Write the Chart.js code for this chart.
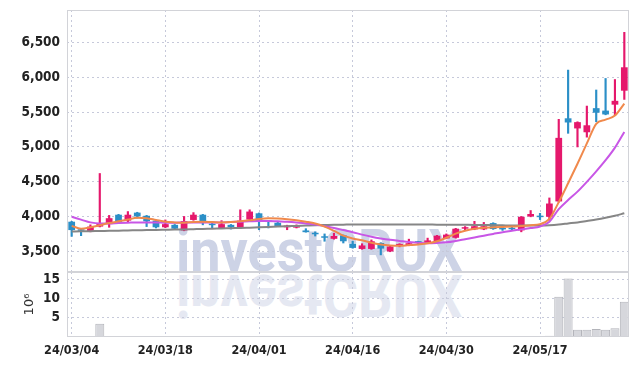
<!DOCTYPE html>
<html>
<head>
<meta charset="utf-8">
<script src="https://cdn.jsdelivr.net/npm/chart.js@4.4.1/dist/chart.umd.min.js"></script>
<style>
  html, body { margin: 0; padding: 0; background: #fff; }
  #wrap { position: relative; width: 639px; height: 366px; overflow: hidden; }
  .mark {
    position: absolute; left: 176px; top: 221px;
    font-family: Roboto, sans-serif; font-weight: 700; font-size: 60px; line-height: 60px;
    color: #cdd3e6; white-space: nowrap;
    transform-origin: 0 50px; transform: scaleX(0.9);
  }
  .mark.flip { top: 225px; transform: scale(0.9, -1); opacity: 0.5; }
  #priceBox { position: absolute; left: 0; top: 0; width: 639px; height: 272px; }
  #volBox { position: absolute; left: 0; top: 272px; width: 639px; height: 94px; }
</style>
</head>
<body>
<div id="wrap">
  <div class="mark">investCRUX</div>
  <div class="mark flip">investCRUX</div>
  <div id="priceBox"><canvas id="priceChart"></canvas></div>
  <div id="volBox"><canvas id="volChart"></canvas></div>
</div>
<script>
// 거래일 (x축)
const dates = ['24/03/04','24/03/05','24/03/06','24/03/07','24/03/08','24/03/11','24/03/12','24/03/13','24/03/14','24/03/15',
  '24/03/18','24/03/19','24/03/20','24/03/21','24/03/22','24/03/25','24/03/26','24/03/27','24/03/28','24/03/29',
  '24/04/01','24/04/02','24/04/03','24/04/04','24/04/05','24/04/08','24/04/09','24/04/11','24/04/12','24/04/15',
  '24/04/16','24/04/17','24/04/18','24/04/19','24/04/22','24/04/23','24/04/24','24/04/25','24/04/26','24/04/29',
  '24/04/30','24/05/02','24/05/03','24/05/07','24/05/08','24/05/09','24/05/10','24/05/13','24/05/14','24/05/16',
  '24/05/17','24/05/20','24/05/21','24/05/22','24/05/23','24/05/24','24/05/27','24/05/28','24/05/29','24/05/30'];

// 시가 / 고가 / 저가 / 종가
const opens = [3930,3815,3790,3860,3895,4030,3945,4060,4015,3945,
  3850,3885,3805,3955,4030,3895,3840,3885,3850,3960,
  4050,3945,3915,3850,3845,3805,3770,3720,3685,3735,
  3615,3540,3540,3625,3505,3590,3590,3640,3625,3650,
  3690,3700,3830,3820,3820,3910,3830,3830,3805,4005,
  4010,4000,4220,5410,5265,5210,5555,5520,5605,5805];
const highs = [3935,3820,3885,4620,4020,4035,4075,4065,4020,3950,
  3955,3890,4005,4060,4035,3935,3945,3890,4100,4100,
  4055,3950,3920,3880,3885,3830,3785,3755,3765,3740,
  3650,3615,3670,3630,3580,3615,3680,3650,3695,3735,
  3755,3835,3860,3935,3920,3915,3855,3850,4005,4090,
  4050,4270,5395,6100,5360,5585,5815,5980,5965,6640];
const lows = [3720,3730,3785,3855,3850,3920,3925,3980,3860,3840,
  3845,3820,3800,3950,3885,3830,3835,3825,3830,3955,
  3815,3840,3860,3815,3840,3780,3725,3650,3680,3625,
  3550,3535,3535,3455,3500,3570,3585,3610,3620,3645,
  3685,3695,3815,3815,3815,3820,3805,3810,3785,4000,
  3960,3950,4210,5195,5000,5140,5360,5460,5455,5680];
const closes = [3810,3800,3860,3905,3980,3925,4030,4005,3935,3850,
  3895,3830,3940,4030,3910,3880,3895,3850,3945,4075,
  3935,3925,3860,3875,3860,3780,3750,3700,3725,3650,
  3555,3590,3650,3545,3575,3608,3622,3630,3662,3730,
  3745,3830,3845,3865,3865,3825,3820,3822,4000,4040,
  3995,4190,5130,5350,5355,5310,5490,5465,5660,6140];

// 이동평균선
const ma5 = [3870,3830,3850,3880,3910,3935,3960,3985,3980,3955,
  3930,3920,3915,3925,3930,3925,3920,3925,3935,3950,
  3970,3980,3975,3965,3950,3930,3905,3860,3800,3730,
  3690,3665,3630,3605,3590,3585,3595,3605,3620,3650,
  3700,3760,3800,3830,3845,3850,3855,3860,3870,3880,
  3895,3970,4210,4480,4760,5050,5330,5390,5450,5620];
const ma20 = [4000,3960,3920,3905,3905,3910,3915,3920,3920,3920,
  3915,3915,3920,3920,3920,3920,3920,3925,3930,3935,
  3940,3940,3935,3930,3920,3905,3890,3865,3840,3810,
  3780,3745,3715,3690,3670,3655,3640,3630,3620,3625,
  3635,3655,3680,3705,3730,3755,3780,3800,3820,3840,
  3860,3930,4110,4240,4360,4500,4650,4810,4990,5215];
const ma60 = [3790,3792,3795,3797,3800,3802,3805,3807,3810,3812,
  3815,3818,3820,3823,3826,3830,3833,3837,3840,3845,
  3850,3855,3860,3865,3870,3875,3880,3883,3886,3888,
  3890,3890,3890,3890,3890,3890,3890,3890,3889,3888,
  3887,3886,3885,3884,3882,3880,3878,3876,3875,3874,
  3875,3880,3890,3905,3920,3940,3960,3985,4015,4050];

// 거래량 (백만 주)
const volumes = [0.05,0.05,0.05,3.5,0.25,0.05,0.2,0.2,0.05,0.05,
  0.05,0.05,0.05,0.2,0.05,0.05,0.05,0.05,0.05,0.2,
  0.2,0.05,0.05,0.05,0.05,0.05,0.05,0.05,0.05,0.05,
  0.05,0.05,0.05,0.05,0.05,0.05,0.05,0.05,0.05,0.05,
  0.05,0.05,0.05,0.05,0.05,0.05,0.05,0.05,0.05,0.05,
  0.05,0.3,10.6,15.4,1.9,1.9,2.1,1.9,2.3,9.3];

const priceTicks = [3500, 4000, 4500, 5000, 5500, 6000, 6500];
const volumeTicks = [5, 10, 15];
const labelEvery = 10;

const UP = '#e5186c';
const DOWN = '#2b8fc7';
const GRID = '#c6c9da';
const FRAME = '#d2d3d8';

const candleColors = opens.map((o, i) => closes[i] >= o ? UP : DOWN);
const bodies = opens.map((o, i) => [o, closes[i]]);
const wicks = lows.map((l, i) => [l, highs[i]]);

// 차트 테두리
const framePlugin = {
  id: 'frame',
  afterDraw(chart) {
    const { ctx, chartArea: a } = chart;
    ctx.save();
    ctx.strokeStyle = FRAME;
    ctx.lineWidth = 1;
    ctx.strokeRect(a.left + 0.5, a.top + 0.5, a.right - a.left - 1, a.bottom - a.top - 1);
    ctx.restore();
  }
};

const xBase = {
  type: 'category',
  offset: true,
  grid: { color: GRID, offset: false, drawTicks: false },
  border: { display: false, dash: [2, 3] },
  afterBuildTicks: scale => {
    scale.ticks = scale.ticks.filter(t => t.value % labelEvery === 0);
  }
};

// y축 폭 고정, 라벨 여백 제거
const fitY = scale => {
  scale.width = 67;
  scale.paddingTop = 0;
  scale.paddingBottom = 0;
};

const yFont = { family: "'DejaVu Sans Condensed', sans-serif", size: 13.5, weight: 'bold' };

new Chart(document.getElementById('priceChart'), {
  type: 'bar',
  data: {
    labels: dates,
    datasets: [
      { type: 'line', data: ma5, borderColor: '#f0894c', borderWidth: 2, pointRadius: 0, cubicInterpolationMode: 'monotone', order: -3 },
      { type: 'line', data: ma20, borderColor: '#c856e6', borderWidth: 2, pointRadius: 0, cubicInterpolationMode: 'monotone', order: -2 },
      { type: 'line', data: ma60, borderColor: '#868686', borderWidth: 2, pointRadius: 0, cubicInterpolationMode: 'monotone', order: -1 },
      { data: bodies, backgroundColor: candleColors, barPercentage: 0.72, categoryPercentage: 1, grouped: false, minBarLength: 1.5, order: 1 },
      { data: wicks, backgroundColor: candleColors, barThickness: 1.5, grouped: false, order: 2 }
    ]
  },
  options: {
    responsive: true,
    maintainAspectRatio: false,
    animation: false,
    layout: { padding: { top: 10, right: 10, left: 0, bottom: 0 } },
    plugins: { legend: { display: false }, tooltip: { enabled: false } },
    scales: {
      x: Object.assign({}, xBase, {
        ticks: { display: false, autoSkip: false },
        afterFit: scale => { scale.height = 0; scale.paddingLeft = 0; scale.paddingRight = 0; }
      }),
      y: {
        min: 3210,
        max: 6960,
        grid: { color: GRID, drawTicks: false },
        border: { display: false, dash: [2, 3] },
        afterBuildTicks: scale => {
          scale.ticks = priceTicks.map(v => ({ value: v }));
        },
        afterFit: fitY,
        ticks: {
          padding: 7,
          color: '#222',
          font: yFont,
          callback: v => v.toLocaleString('en-US')
        }
      }
    }
  },
  plugins: [framePlugin]
});

new Chart(document.getElementById('volChart'), {
  type: 'bar',
  data: {
    labels: dates,
    datasets: [{
      data: volumes,
      backgroundColor: '#d6d7dc',
      borderColor: '#b3b4ba',
      borderWidth: 1,
      barPercentage: 1,
      categoryPercentage: 0.96
    }]
  },
  options: {
    responsive: true,
    maintainAspectRatio: false,
    animation: false,
    layout: { padding: { top: 0, right: 10, left: 0, bottom: 0 } },
    plugins: { legend: { display: false }, tooltip: { enabled: false } },
    scales: {
      x: Object.assign({}, xBase, {
        ticks: {
          autoSkip: false,
          maxRotation: 0,
          padding: 6,
          color: '#222',
          font: { family: "'DejaVu Sans Condensed', 'DejaVu Sans', sans-serif", size: 12.5, weight: 'bold' }
        },
        afterFit: scale => { scale.height = 29; }
      }),
      y: {
        min: 0,
        max: 17.1,
        grid: { color: GRID, drawTicks: false },
        border: { display: false, dash: [2, 3] },
        afterBuildTicks: scale => {
          scale.ticks = volumeTicks.map(v => ({ value: v }));
        },
        afterFit: fitY,
        title: {
          display: true,
          text: '10⁶',
          color: '#333',
          font: { family: "'DejaVu Sans', sans-serif", size: 13 },
          padding: { top: 22, bottom: 0 }
        },
        ticks: { padding: 7, color: '#222', font: yFont }
      }
    }
  },
  plugins: [framePlugin]
});
</script>
</body>
</html>
